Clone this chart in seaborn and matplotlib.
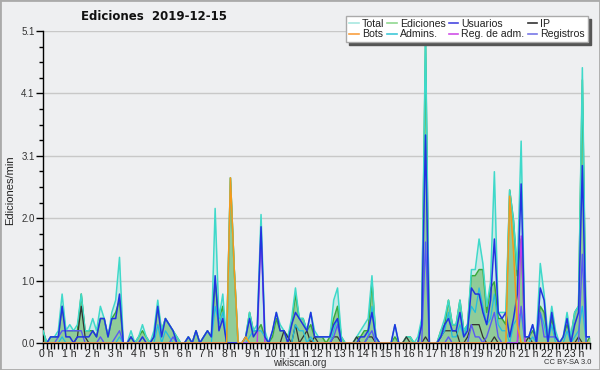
import numpy as np
import pandas as pd
import matplotlib
matplotlib.use("Agg")
import matplotlib.pyplot as plt
import matplotlib.transforms as mtransforms
from matplotlib.lines import Line2D
from matplotlib.patches import Rectangle
import seaborn as sns

# ---- data: edits per minute, 10-minute bins (6 per hour) ----
total = [
    0.2, 0.0, 0.1, 0.1, 0.2, 0.8,
    0.2, 0.3, 0.2, 0.3, 0.8, 0.2,
    0.2, 0.4, 0.2, 0.6, 0.4, 0.1,
    0.5, 0.7, 1.4, 0.0, 0.0, 0.2,
    0.0, 0.1, 0.3, 0.1, 0.0, 0.2,
    0.7, 0.2, 0.4, 0.3, 0.2, 0.1,
    0.0, 0.0, 0.1, 0.0, 0.2, 0.0,
    0.1, 0.2, 0.1, 2.2, 0.4, 0.8,
    0.0, 2.7, 1.2, 0.0, 0.0, 0.1,
    0.5, 0.2, 0.3, 2.1, 0.2, 0.0,
    0.2, 0.5, 0.3, 0.2, 0.1, 0.4,
    0.9, 0.4, 0.4, 0.2, 0.5, 0.2,
    0.1, 0.1, 0.1, 0.1, 0.7, 0.9,
    0.1, 0.0, 0.0, 0.0, 0.1, 0.2,
    0.3, 0.4, 1.1, 0.1, 0.0, 0.0,
    0.0, 0.0, 0.3, 0.0, 0.0, 0.1,
    0.1, 0.0, 0.1, 0.4, 5.1, 0.0,
    0.0, 0.0, 0.2, 0.4, 0.7, 0.3,
    0.3, 0.7, 0.2, 0.3, 1.2, 1.2,
    1.7, 1.3, 0.6, 1.0, 2.8, 0.5,
    0.5, 0.5, 2.5, 2.0, 1.2, 3.3,
    0.1, 0.1, 0.3, 0.1, 1.3, 0.8,
    0.1, 0.6, 0.2, 0.0, 0.1, 0.5,
    0.1, 0.5, 0.6, 4.5, 0.1, 0.1,
]
ediciones = [
    0.2, 0.0, 0.1, 0.1, 0.1, 0.6,
    0.2, 0.2, 0.2, 0.2, 0.8, 0.2,
    0.2, 0.2, 0.1, 0.4, 0.4, 0.1,
    0.4, 0.5, 0.7, 0.0, 0.0, 0.1,
    0.0, 0.1, 0.2, 0.1, 0.0, 0.1,
    0.6, 0.2, 0.4, 0.3, 0.2, 0.1,
    0.0, 0.0, 0.1, 0.0, 0.2, 0.0,
    0.1, 0.2, 0.1, 1.0, 0.4, 0.6,
    0.0, 2.7, 1.2, 0.0, 0.0, 0.1,
    0.5, 0.2, 0.2, 0.3, 0.1, 0.0,
    0.1, 0.4, 0.2, 0.2, 0.1, 0.3,
    0.8, 0.4, 0.4, 0.2, 0.3, 0.1,
    0.1, 0.1, 0.0, 0.1, 0.4, 0.6,
    0.1, 0.0, 0.0, 0.0, 0.1, 0.1,
    0.2, 0.2, 1.0, 0.1, 0.0, 0.0,
    0.0, 0.0, 0.1, 0.0, 0.0, 0.1,
    0.1, 0.0, 0.0, 0.3, 4.9, 0.0,
    0.0, 0.0, 0.2, 0.3, 0.7, 0.3,
    0.3, 0.7, 0.2, 0.3, 1.1, 1.1,
    1.2, 1.2, 0.5, 0.9, 1.0, 0.4,
    0.4, 0.3, 2.5, 2.0, 1.1, 1.7,
    0.1, 0.1, 0.2, 0.1, 0.6, 0.5,
    0.1, 0.4, 0.1, 0.0, 0.1, 0.3,
    0.1, 0.5, 0.6, 4.3, 0.0, 0.1,
]
usuarios = [
    0.0, 0.0, 0.1, 0.1, 0.1, 0.6,
    0.1, 0.1, 0.0, 0.1, 0.1, 0.1,
    0.1, 0.2, 0.1, 0.4, 0.4, 0.1,
    0.4, 0.4, 0.8, 0.0, 0.0, 0.1,
    0.0, 0.0, 0.1, 0.0, 0.0, 0.1,
    0.6, 0.1, 0.4, 0.3, 0.2, 0.0,
    0.0, 0.0, 0.1, 0.0, 0.2, 0.0,
    0.1, 0.2, 0.1, 1.1, 0.2, 0.4,
    0.0, 0.0, 0.0, 0.0, 0.0, 0.1,
    0.4, 0.1, 0.2, 1.9, 0.1, 0.0,
    0.2, 0.5, 0.2, 0.2, 0.0, 0.3,
    0.5, 0.4, 0.3, 0.2, 0.5, 0.1,
    0.1, 0.1, 0.1, 0.1, 0.3, 0.4,
    0.0, 0.0, 0.0, 0.0, 0.0, 0.1,
    0.1, 0.2, 0.5, 0.1, 0.0, 0.0,
    0.0, 0.0, 0.3, 0.0, 0.0, 0.0,
    0.0, 0.0, 0.0, 0.3, 3.4, 0.0,
    0.0, 0.0, 0.1, 0.3, 0.4, 0.2,
    0.2, 0.5, 0.1, 0.2, 0.9, 0.8,
    0.8, 0.5, 0.3, 0.7, 1.7, 0.5,
    0.4, 0.5, 0.1, 0.4, 0.8, 2.6,
    0.1, 0.1, 0.3, 0.0, 0.9, 0.7,
    0.0, 0.5, 0.1, 0.0, 0.1, 0.4,
    0.0, 0.3, 0.5, 2.9, 0.1, 0.1,
]
ip = [
    0, 0, 0, 0, 0, 0,
    0, 0, 0, 0.1, 0.6, 0.1,
    0, 0, 0, 0, 0, 0,
    0, 0, 0, 0, 0, 0,
    0, 0, 0, 0, 0, 0,
    0, 0, 0, 0, 0, 0,
    0, 0, 0, 0, 0, 0,
    0, 0, 0, 0, 0, 0,
    0, 0, 0, 0, 0, 0,
    0, 0, 0, 0, 0, 0,
    0, 0, 0, 0.2, 0.1, 0,
    0.3, 0, 0.1, 0.2, 0, 0.1,
    0, 0, 0, 0, 0.1, 0.1,
    0, 0, 0, 0, 0.1, 0,
    0, 0.1, 0.1, 0, 0, 0,
    0, 0, 0, 0, 0, 0.1,
    0, 0, 0, 0, 0.1, 0,
    0, 0, 0.1, 0.2, 0.2, 0.2,
    0.2, 0, 0, 0.1, 0.3, 0.3,
    0.3, 0.1, 0, 0, 0.1, 0,
    0, 0, 0, 0, 0, 0,
    0, 0.1, 0, 0, 0, 0,
    0, 0, 0, 0, 0, 0,
    0, 0, 0.1, 0, 0, 0,
]
bots = [
    0, 0, 0, 0, 0, 0,
    0, 0, 0, 0, 0, 0,
    0, 0, 0, 0, 0, 0,
    0, 0, 0, 0, 0, 0,
    0, 0, 0, 0, 0, 0,
    0, 0, 0, 0, 0, 0,
    0, 0, 0, 0, 0, 0,
    0, 0, 0, 0, 0, 0,
    0, 2.7, 1.2, 0, 0, 0.1,
    0, 0, 0, 0, 0, 0,
    0, 0, 0, 0, 0, 0,
    0, 0, 0, 0, 0, 0,
    0, 0, 0, 0, 0, 0,
    0, 0, 0, 0, 0, 0,
    0, 0, 0, 0, 0, 0,
    0, 0, 0, 0, 0, 0,
    0, 0, 0, 0, 0, 0,
    0, 0, 0, 0, 0, 0,
    0, 0, 0, 0, 0, 0,
    0, 0, 0, 0, 0, 0,
    0, 0, 2.4, 1.5, 0.3, 0,
    0, 0, 0, 0, 0, 0,
    0, 0, 0, 0, 0, 0,
    0, 0, 0, 0, 0, 0,
]
admins = [
    0, 0, 0, 0, 0, 0.1,
    0, 0, 0, 0, 0, 0,
    0, 0, 0, 0, 0, 0,
    0, 0, 0.1, 0, 0, 0,
    0, 0, 0, 0, 0, 0,
    0.3, 0, 0.2, 0.1, 0, 0,
    0, 0, 0, 0, 0, 0,
    0, 0, 0, 0.6, 0.3, 0.5,
    0, 0, 0, 0, 0, 0,
    0.1, 0.2, 0.2, 0.2, 0.1, 0,
    0, 0, 0, 0, 0, 0,
    0.3, 0.2, 0.2, 0, 0.1, 0,
    0, 0, 0, 0, 0.2, 0.4,
    0, 0, 0, 0, 0, 0,
    0, 0.1, 0.6, 0, 0, 0,
    0, 0, 0, 0, 0, 0,
    0, 0, 0, 0, 0, 0,
    0, 0, 0.1, 0.2, 0.5, 0.1,
    0.1, 0.3, 0.1, 0.3, 0.6, 0.5,
    0.9, 0.6, 0.3, 0.4, 0.8, 0.3,
    0.2, 0.2, 0, 0.3, 0.4, 0.5,
    0, 0, 0.1, 0, 0.5, 0.3,
    0, 0.3, 0, 0, 0, 0.2,
    0, 0.1, 0.2, 0.6, 0, 0,
]
reg_adm = [0.0] * 57 + [1.8] + [0.0] * 67 + [1.75] + [0.0] * 18
registros = [
    0, 0, 0, 0, 0.1, 0.2,
    0.2, 0.2, 0.2, 0.2, 0.2, 0,
    0, 0, 0, 0.1, 0, 0,
    0, 0.1, 0.2, 0, 0, 0,
    0, 0, 0, 0, 0, 0,
    0, 0, 0, 0, 0.1, 0,
    0, 0, 0, 0, 0, 0,
    0, 0, 0, 0, 0, 0,
    0, 0, 0, 0, 0, 0,
    0, 0, 0, 0, 0, 0,
    0, 0, 0, 0, 0, 0,
    0, 0, 0, 0, 0, 0,
    0, 0, 0, 0, 0.1, 0.3,
    0, 0, 0, 0, 0, 0,
    0, 0.1, 0.2, 0, 0, 0,
    0, 0, 0, 0, 0, 0,
    0, 0, 0, 0, 1.65, 0,
    0, 0, 0, 0, 0.1, 0,
    0, 0, 0, 0, 0.3, 0.1,
    0.1, 0, 0.1, 0.3, 0.5, 0.1,
    0, 0, 0, 0, 0, 0.6,
    0, 0, 0, 0, 0.5, 0.1,
    0.1, 0.1, 0.1, 0, 0, 0,
    0, 0, 0, 1.45, 0, 0,
]
hour_labels = [f"{h} h" for h in range(24)]
ytick_values = [0, 1.02, 2.04, 3.06, 4.08, 5.1]
ytick_labels = ["0.0", "1.0", "2.0", "3.1", "4.1", "5.1"]

hours = np.arange(len(total)) / 6.0
df = pd.DataFrame({"hora": hours, "Total": total, "Ediciones": ediciones,
                   "Usuarios": usuarios, "IP": ip, "Bots": bots,
                   "Admins.": admins, "Reg. de adm.": reg_adm,
                   "Registros": registros})

FONT = ["Liberation Sans", "DejaVu Sans"]
plt.rcParams["font.family"] = FONT

BG = "#eeeff1"
fig = plt.figure(figsize=(6, 3.7), dpi=100, facecolor=BG)
ax = fig.add_axes([43 / 600, 1 - 343 / 370, (590 - 43) / 600, (343 - 31) / 370])
ax.set_facecolor(BG)

# fills
ax.fill_between(df["hora"], df["Total"], color="#a6e4de", alpha=0.5, lw=0, zorder=1)
ax.fill_between(df["hora"], df["Ediciones"], color="#78c078", alpha=0.7, lw=0, zorder=2)

styles = [
    ("Ediciones", "#3aaa3a", 1.1, 3),
    ("Total", "#3fd9ca", 1.1, 4),
    ("IP", "#333333", 0.9, 5),
    ("Admins.", "#22bde0", 0.9, 6),
    ("Registros", "#5a5af2", 1.0, 7),
    ("Reg. de adm.", "#c23fe8", 1.0, 7.5),
    ("Usuarios", "#2233e0", 1.1, 8),
    ("Bots", "#f59a1a", 1.1, 10),
]
for name, col, lw, z in styles:
    sns.lineplot(data=df, x="hora", y=name, ax=ax, color=col, lw=lw,
                 zorder=z, estimator=None, sort=False, legend=False)

ax.set_xlim(0, hours[-1])
ax.set_ylim(0, 5.1)
ax.set_xlabel("")
ax.set_ylabel("")

ax.set_yticks(ytick_values)
ax.set_yticklabels(ytick_labels)
ax.set_yticks(np.arange(0, 5.1 + 1e-6, 0.255), minor=True)
ax.set_xticks(range(24))
ax.set_xticklabels(hour_labels)
ax.set_xticks(np.arange(0, hours[-1] + 1e-6, 1 / 6), minor=True)

ax.tick_params(axis="y", which="major", length=5, width=1, labelsize=7,
               pad=1, labelcolor="#333333")
ax.tick_params(axis="y", which="minor", length=3, width=1)
ax.tick_params(axis="x", which="both", length=4, width=1, labelsize=7.5,
               pad=0, labelcolor="#222222")
offset = mtransforms.ScaledTranslation(3 / 100, 0, fig.dpi_scale_trans)
for lab in ax.get_xticklabels():
    lab.set_transform(lab.get_transform() + offset)

ax.yaxis.grid(True, which="major", color="#c8c8c8", lw=1)
ax.set_axisbelow(True)
for s in ["top", "right"]:
    ax.spines[s].set_visible(False)
for s in ["left", "bottom"]:
    ax.spines[s].set_color("black")
    ax.spines[s].set_linewidth(1)

fig.text(154 / 600, 1 - 16 / 370, "Ediciones  2019-12-15", fontsize=8.5,
         fontweight="bold", ha="center", va="center", color="#111111",
         family=["DejaVu Sans"])
fig.text(10 / 600, 1 - 190 / 370, "Ediciones/min", rotation=90, fontsize=8,
         ha="center", va="center", color="#222222")
fig.text(300 / 600, 1 - 363 / 370, "wikiscan.org", fontsize=7,
         ha="center", va="center", color="#333333")
fig.text(591 / 600, 1 - 363 / 370, "CC BY-SA 3.0", fontsize=5.5,
         ha="right", va="center", color="#333333")

legend_cols = {"Total": "#a8e8e0", "Ediciones": "#90d890", "Usuarios": "#4848e0",
               "IP": "#333333", "Bots": "#f9a040", "Admins.": "#40c8d8",
               "Reg. de adm.": "#d050e8", "Registros": "#7878e8"}
order = ["Total", "Bots", "Ediciones", "Admins.", "Usuarios", "Reg. de adm.",
         "IP", "Registros"]
handles = [Line2D([0], [0], color=legend_cols[n], lw=1.2) for n in order]
leg = fig.legend(handles, order, loc="upper right",
                 bbox_to_anchor=(593 / 600, 1 - 11 / 370),
                 bbox_transform=fig.transFigure, ncol=4, fontsize=7.6,
                 handlelength=0.9, handletextpad=0.3, columnspacing=0.3,
                 labelspacing=0.05, borderpad=0.25, fancybox=False,
                 shadow={"color": "#555555", "alpha": 1.0},
                 frameon=True, edgecolor="#aaaaaa", facecolor="white",
                 framealpha=1.0)
leg.get_frame().set_linewidth(1)
for t in leg.get_texts():
    t.set_color("#222222")

fig.add_artist(Rectangle((0, 0), 1, 1, transform=fig.transFigure, fill=False,
                         edgecolor="#aaaaaa", lw=2))

fig.savefig("out.png", dpi=100, facecolor=BG)
